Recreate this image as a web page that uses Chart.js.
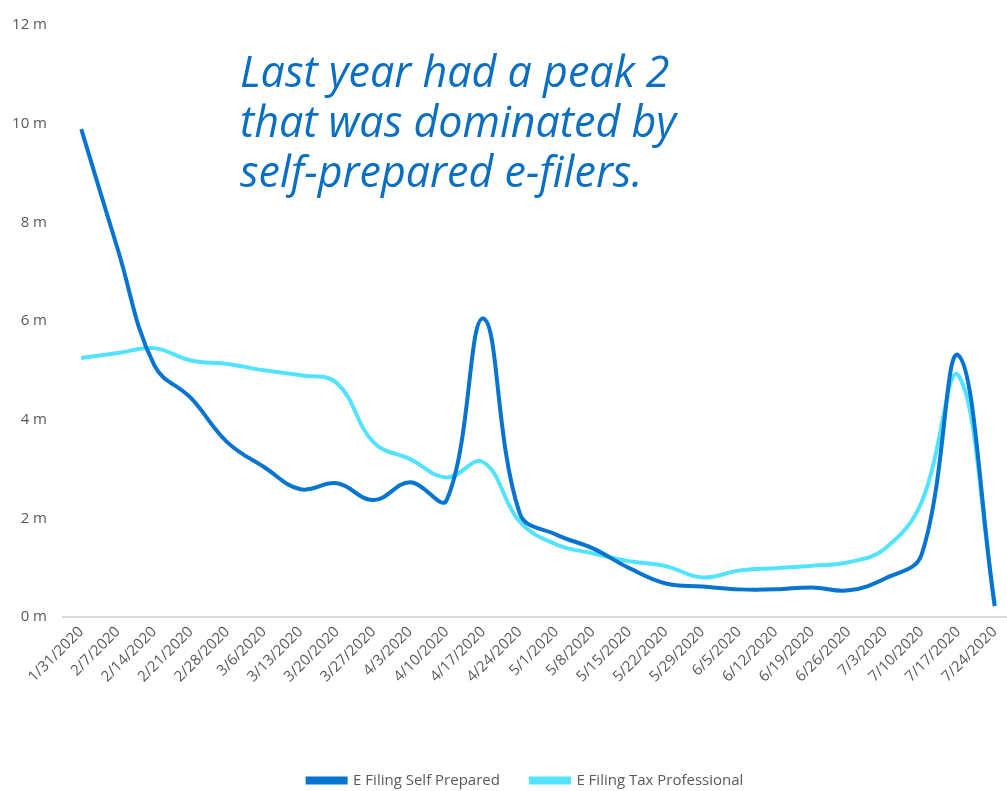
<!DOCTYPE html>
<html>
<head>
<meta charset="utf-8">
<script src="https://cdn.jsdelivr.net/npm/chart.js@4"></script>
<style>
  html, body { margin: 0; padding: 0; background: #fff; overflow: hidden; }
  #wrap { position: relative; width: 1007px; height: 791px; overflow: hidden; }
  #note {
    position: absolute; left: 240px; top: 46px;
    font-family: "Open Sans", sans-serif; font-style: italic;
    font-size: 43px; line-height: 50px; color: #0a6fc2;
    white-space: nowrap;
  }
</style>
</head>
<body>
<div id="wrap">
  <canvas id="lineChart" width="1054" height="798"></canvas>
  <div id="note">Last year had a peak 2<br>that was dominated by<br>self-prepared e-filers.</div>
</div>
<script>
// veckovisa e-filer, miljoner
const weeks = [
  '1/31/2020', '2/7/2020', '2/14/2020', '2/21/2020', '2/28/2020', '3/6/2020',
  '3/13/2020', '3/20/2020', '3/27/2020', '4/3/2020', '4/10/2020', '4/17/2020',
  '4/24/2020', '5/1/2020', '5/8/2020', '5/15/2020', '5/22/2020', '5/29/2020',
  '6/5/2020', '6/12/2020', '6/19/2020', '6/26/2020', '7/3/2020', '7/10/2020',
  '7/17/2020', '7/24/2020'
];
const selfPrepared = [
  9.89, 7.45, 5.1, 4.44, 3.54, 3.04, 2.59, 2.71, 2.37, 2.73, 2.37, 6.05,
  2.1, 1.67, 1.39, 0.99, 0.68, 0.62, 0.56, 0.56, 0.6, 0.54, 0.78, 1.27,
  5.31, 0.22
];
const taxProfessional = [
  5.25, 5.35, 5.45, 5.2, 5.13, 5.0, 4.9, 4.74, 3.54, 3.2, 2.83, 3.14,
  1.93, 1.47, 1.29, 1.13, 1.03, 0.8, 0.94, 0.99, 1.04, 1.11, 1.39, 2.33,
  4.9, 0.28
];
const yTicks = [0, 2, 4, 6, 8, 10, 12];

const tickFont = { family: 'Open Sans', size: 15 };

// flyttar förklaringen lite åt höger
const legendShift = {
  id: 'legendShift',
  afterLayout(chart) {
    chart.legend.left += 13;
    chart.legend.right += 13;
  }
};

new Chart(document.getElementById('lineChart').getContext('2d'), {
  type: 'line',
  data: {
    labels: weeks,
    datasets: [
      {
        label: 'E Filing Self Prepared',
        data: selfPrepared,
        borderColor: '#0674d0',
        backgroundColor: '#0674d0',
        borderWidth: 4,
        pointRadius: 0,
        tension: 0.4
      },
      {
        label: 'E Filing Tax Professional',
        data: taxProfessional,
        borderColor: '#52e3ff',
        backgroundColor: '#52e3ff',
        borderWidth: 4,
        pointRadius: 0,
        tension: 0.4
      }
    ]
  },
  plugins: [legendShift],
  options: {
    responsive: false,
    animation: false,
    layout: { padding: { top: 0, right: 41, left: 12, bottom: 0 } },
    plugins: {
      legend: {
        position: 'bottom',
        labels: {
          boxWidth: 38, boxHeight: 4, padding: 31,
          color: '#595959',
          font: { family: 'Open Sans', size: 15 }
        }
      },
      tooltip: { enabled: false }
    },
    scales: {
      x: {
        offset: true,
        grid: { display: false, drawTicks: false },
        border: { display: true, color: '#d9d9d9', width: 2 },
        ticks: {
          color: '#595959', font: tickFont,
          minRotation: 45, maxRotation: 45, autoSkip: false, padding: 6
        },
        afterFit: axis => {
          axis.height = 125;
          axis.paddingLeft = 0;
          axis.paddingRight = 0;
        }
      },
      y: {
        min: 0, max: 12,
        afterBuildTicks: axis => { axis.ticks = yTicks.map(v => ({ value: v })); },
        grid: { display: false, drawTicks: false },
        border: { display: false },
        ticks: {
          color: '#595959', font: tickFont, padding: 16,
          callback: v => v + ' m'
        },
        afterFit: axis => { axis.width = 51; }
      }
    }
  }
});
</script>
</body>
</html>
